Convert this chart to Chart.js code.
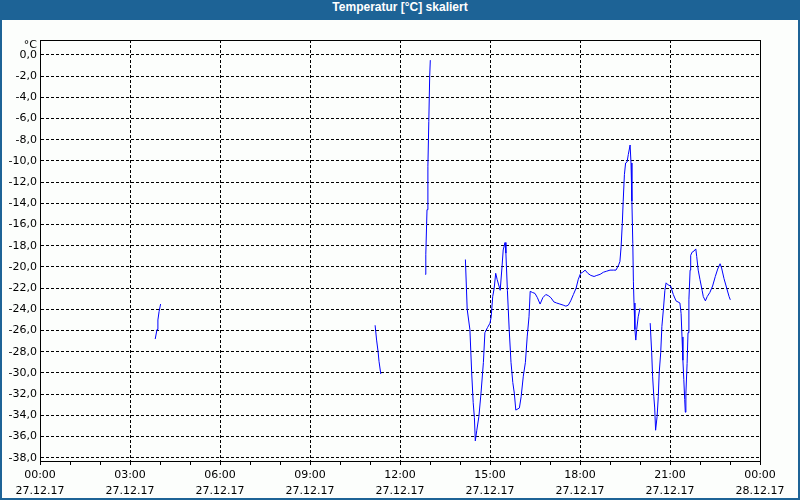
<!DOCTYPE html>
<html>
<head>
<meta charset="utf-8">
<script src="https://cdn.jsdelivr.net/npm/chart.js@4.4.1/dist/chart.umd.min.js"></script>
<style>
  html, body { margin: 0; padding: 0; background: #1d6396; }
  #frame { position: relative; width: 800px; height: 500px; background: #1d6396; overflow: hidden; }
  #title { position: absolute; left: 0; top: 0; width: 800px; height: 20px; line-height: 20px;
           text-align: center; color: #fff; font: bold 12px "Liberation Sans", sans-serif; }
  #panel { position: absolute; left: 2px; top: 20px; width: 796px; height: 478px; background: #fcfefc; }
</style>
</head>
<body>
<div id="frame">
  <div id="title">Temperatur [°C] skaliert</div>
  <div id="panel"><canvas id="myChart" width="796" height="478"></canvas></div>
</div>
<script>
// measurement segments (hour of day, °C); gaps between them are missing readings
const seg1Hours = [3.84, 3.90, 3.93, 3.97, 4.02];
const seg1Temps = [-26.8, -25.9, -25.0, -24.2, -23.5];

const seg2Hours = [11.17, 11.22, 11.27, 11.30, 11.36];
const seg2Temps = [-25.5, -26.9, -28.0, -28.9, -30.1];

const seg3Hours = [12.84, 12.86, 12.90, 12.93, 12.96, 12.99, 13.01];
const seg3Temps = [-20.7, -18.8, -14.6, -10.5, -6.3, -2.0, -0.5];

const seg4Hours = [
  14.18, 14.24, 14.33, 14.39, 14.44, 14.48, 14.51, 14.56, 14.63, 14.70, 14.78, 14.83, 14.92,
  15.00, 15.04, 15.09, 15.14, 15.19, 15.24, 15.29, 15.34, 15.40, 15.44, 15.50, 15.53, 15.58,
  15.64, 15.70, 15.76, 15.81, 15.86, 15.98, 16.04, 16.11, 16.18, 16.24, 16.30, 16.34, 16.41,
  16.50, 16.58, 16.67, 16.76, 16.86, 16.94, 17.03, 17.13, 17.22, 17.33, 17.44, 17.53, 17.61,
  17.69, 17.78, 17.87, 17.94, 18.02, 18.09, 18.17, 18.26, 18.36, 18.47, 18.56, 18.67, 18.78,
  18.89, 19.00, 19.11, 19.20, 19.29, 19.33, 19.37, 19.41, 19.44, 19.48, 19.52, 19.57, 19.61,
  19.67, 19.70, 19.73, 19.76, 19.78, 19.80, 19.83, 19.86, 19.89, 19.94, 20.00
];
const seg4Temps = [
  -19.3, -24.0, -25.9, -30.0, -32.8, -34.2, -36.4, -35.4, -34.1, -31.9, -29.0, -26.2, -25.7,
  -25.3, -24.7, -22.8, -22.0, -20.6, -21.2, -21.7, -22.2, -20.0, -18.4, -17.7, -18.7, -22.2,
  -25.9, -29.0, -30.9, -31.9, -33.5, -33.3, -32.2, -30.3, -29.0, -26.6, -24.7, -22.3, -22.4,
  -22.5, -22.9, -23.5, -22.9, -22.6, -22.7, -22.9, -23.3, -23.4, -23.5, -23.6, -23.7, -23.6,
  -23.2, -22.6, -22.0, -21.2, -20.6, -20.5, -20.3, -20.6, -20.8, -20.9, -20.8, -20.7, -20.5,
  -20.4, -20.3, -20.3, -20.3, -19.8, -19.5, -18.1, -15.9, -13.8, -11.3, -10.2, -10.1, -9.4,
  -8.5, -10.2, -13.8, -17.8, -21.4, -23.4, -25.9, -26.9, -25.9, -24.7, -23.9
];

const seg5Hours = [
  20.34, 20.39, 20.42, 20.46, 20.49, 20.52, 20.57, 20.61, 20.64, 20.69, 20.73, 20.78, 20.83,
  20.87, 20.94, 21.02, 21.11, 21.20, 21.33, 21.37, 21.40, 21.43, 21.46, 21.49, 21.51, 21.53,
  21.57, 21.60, 21.63, 21.67, 21.69, 21.74, 21.80, 21.86, 21.89, 21.94, 22.00, 22.07, 22.11,
  22.18, 22.24, 22.33, 22.42, 22.51, 22.59, 22.67, 22.72, 22.80, 22.89, 22.97, 23.01
];
const seg5Temps = [
  -25.3, -28.1, -30.3, -32.2, -33.3, -35.4, -34.1, -32.2, -30.0, -28.1, -25.6, -24.0, -22.2,
  -21.5, -21.7, -21.8, -22.6, -23.2, -23.4, -24.4, -26.6, -28.8, -30.6, -32.5, -33.7, -31.9,
  -29.1, -26.2, -23.1, -20.3, -18.9, -18.6, -18.5, -18.3, -19.0, -20.3, -21.2, -22.2, -22.8,
  -23.2, -22.8, -22.4, -21.8, -20.9, -20.2, -19.7, -20.1, -21.1, -22.0, -22.8, -23.1
];

const yTicks = [0, -2, -4, -6, -8, -10, -12, -14, -16, -18, -20, -22, -24, -26, -28, -30, -32, -34, -36, -38];
const xTicks = [0, 3, 6, 9, 12, 15, 18, 21, 24];
const xTickTimes = ['00:00', '03:00', '06:00', '09:00', '12:00', '15:00', '18:00', '21:00', '00:00'];
const xTickDates = ['27.12.17', '27.12.17', '27.12.17', '27.12.17', '27.12.17', '27.12.17', '27.12.17', '27.12.17', '28.12.17'];

// join segments, a null point breaks the line
const segments = [
  [seg1Hours, seg1Temps], [seg2Hours, seg2Temps], [seg3Hours, seg3Temps],
  [seg4Hours, seg4Temps], [seg5Hours, seg5Temps]
];
const points = [];
segments.forEach(function(seg, s) {
  if (s > 0) points.push({ x: seg[0][0] - 0.01, y: null });
  seg[0].forEach(function(h, i) { points.push({ x: h, y: seg[1][i] }); });
});

const FONT = '"DejaVu Sans", sans-serif';

const framePlugin = {
  id: 'frame',
  beforeDatasetsDraw: function(chart) {
    const a = chart.chartArea;
    const c = chart.ctx;
    c.save();
    c.setLineDash([]);
    c.strokeStyle = '#000';
    c.lineWidth = 1;
    c.strokeRect(Math.round(a.left) + 0.5, Math.round(a.top) + 0.5,
                 Math.round(a.right - a.left), Math.round(a.bottom - a.top));
    c.restore();
  },
  afterDraw: function(chart) {
    const a = chart.chartArea;
    const c = chart.ctx;
    c.save();
    c.fillStyle = '#000';
    c.font = '11px ' + FONT;
    c.textAlign = 'right';
    c.textBaseline = 'middle';
    c.fillText('°C', a.left - 3, a.top + 5);
    c.restore();
  }
};

const ctx = document.getElementById('myChart');

new Chart(ctx, {
  type: 'line',
  data: {
    datasets: [{
      label: 'Temperatur',
      data: points,
      borderColor: '#0000ff',
      borderWidth: 1,
      pointRadius: 0,
      tension: 0,
      spanGaps: false,
      fill: false
    }]
  },
  options: {
    responsive: false,
    animation: false,
    events: [],
    layout: { padding: { top: 20, right: 38, left: 0, bottom: 0 } },
    plugins: {
      legend: { display: false },
      title: { display: false },
      tooltip: { enabled: false }
    },
    scales: {
      x: {
        type: 'linear',
        min: 0,
        max: 24,
        afterBuildTicks: function(scale) {
          const t = [];
          for (let h = 0; h <= 24; h++) t.push({ value: h });
          scale.ticks = t;
        },
        afterFit: function(scale) { scale.height = 37; },
        ticks: {
          autoSkip: false,
          maxRotation: 0,
          padding: 2,
          color: '#000',
          font: { family: FONT, size: 11, lineHeight: 1.45 },
          callback: function(value) {
            const i = xTicks.indexOf(value);
            return i < 0 ? '' : [xTickTimes[i], xTickDates[i]];
          }
        },
        grid: {
          color: function(c) {
            return c.tick && xTicks.indexOf(c.tick.value) >= 0 ? '#000' : 'rgba(0,0,0,0)';
          },
          tickColor: '#000',
          tickLength: 4,
          lineWidth: 1
        },
        border: { display: true, color: '#000', dash: [3, 2] }
      },
      y: {
        type: 'linear',
        min: -38.3,
        max: 1.4,
        afterBuildTicks: function(scale) {
          scale.ticks = yTicks.map(function(v) { return { value: v }; });
        },
        afterFit: function(scale) { scale.width = 38; },
        ticks: {
          padding: 3,
          color: '#000',
          font: { family: FONT, size: 11 },
          callback: function(value) { return value.toFixed(1).replace('.', ','); }
        },
        grid: {
          color: '#000',
          lineWidth: 1,
          drawTicks: false
        },
        border: { display: true, color: '#000', dash: [3, 2] }
      }
    }
  },
  plugins: [framePlugin]
});
</script>
</body>
</html>
